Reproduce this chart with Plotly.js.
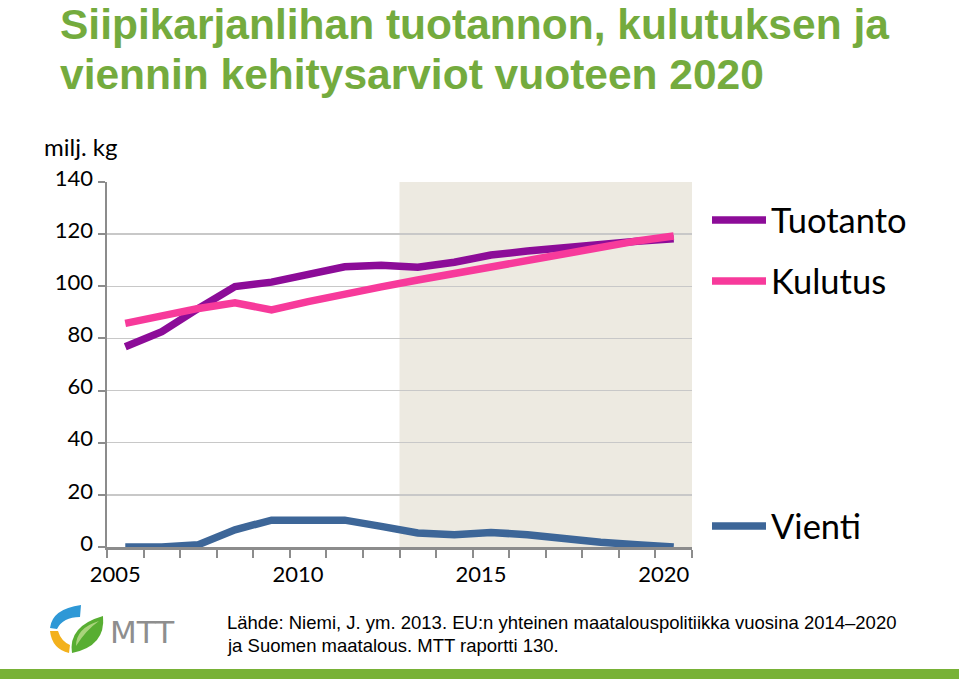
<!DOCTYPE html>
<html>
<head>
<meta charset="utf-8">
<script src="https://cdn.plot.ly/plotly-3.0.1.min.js"></script>
<style>
html,body{margin:0;padding:0;background:#fff;}
#chart{width:959px;height:679px;}
</style>
</head>
<body>
<div id="chart"></div>
<script>
// ---- data ----
const years = [2005, 2006, 2007, 2008, 2009, 2010, 2011, 2012, 2013, 2014, 2015, 2016, 2017, 2018, 2019, 2020];
const tuotanto = [76.8, 82.6, 91.5, 99.9, 101.6, 104.6, 107.5, 108.1, 107.3, 109.2, 112.0, 113.5, 114.9, 116.2, 117.3, 118.2];
const kulutus = [85.8, 89.0, 91.5, 93.7, 90.9, 94.1, 97.3, 99.8, 102.4, 104.9, 107.2, 109.8, 112.3, 115.4, 117.4, 119.3];
const vienti = [0, 0, 0.9, 6.6, 10.3, 10.3, 10.3, 7.9, 5.4, 4.7, 5.6, 4.7, 3.1, 1.8, 0.9, 0];
const tickYears = [2005, 2010, 2015, 2020];
const tickLabels = ['2005', '2010', '2015', '2020'];
const seriesNames = ['Tuotanto', 'Kulutus', 'Vienti'];
const forecastStart = 2013;
const forecastEnd = 2020;

// ---- pixel helpers for the page frame (plot area 107..692 x 182..547) ----
const L = 107, R = 692, T = 182, B = 547;
const px = x => (x - L) / (R - L);
const py = y => (B - y) / (B - T);

const colors = ['#8C0C98', '#F73A9B', '#3D6698'];
const tickFont = {family: 'Lato, "Open Sans", sans-serif', size: 22, color: '#000'};
const legFont = {family: 'Lato, "Open Sans", sans-serif', size: 34.5, color: '#000'};

// category boundaries (tick marks sit between the years)
const boundaries = years.map(y => y - 0.5).concat([years[years.length - 1] + 0.5]);

const series = [tuotanto, kulutus, vienti];
const legendIds = ['legend', 'legend2', 'legend3'];
const xAxisIds = ['x', 'x', 'x2'];
const traces = series.map((vals, i) => ({
  type: 'scatter', mode: 'lines', x: years, y: vals, name: seriesNames[i],
  xaxis: xAxisIds[i], yaxis: 'y',
  line: {color: colors[i], width: 7.5}, cliponaxis: false,
  legend: legendIds[i], hoverinfo: 'x+y+name'
}));

const logoSvg = '<svg xmlns="http://www.w3.org/2000/svg" width="90" height="80" viewBox="30 595 90 80">' +
  '<path d="M50,628 Q52,609 81,605 L80,617 Q63,617 57,629 Z" fill="#2E98D6"/>' +
  '<path d="M50,631 Q52,649 69,653 L70,645 Q61,641 58,631 Z" fill="#F3B11C"/>' +
  '<path d="M72,653 Q68,626 103,616 Q106,646 72,653 Z" fill="#58AE32"/>' +
  '<path d="M76,646 Q76,628 99,621 Q86,630 76,646 Z" fill="#A9D47C"/>' +
  '</svg>';

const legendBase = (y) => ({
  x: px(707), xanchor: 'left', y: py(y), yanchor: 'middle',
  font: legFont, itemwidth: 54, bgcolor: 'rgba(0,0,0,0)', borderwidth: 0
});

const xRange = [years[0] - 0.5, years[years.length - 1] + 0.5];

const layout = {
  width: 959, height: 679,
  margin: {l: L, r: 959 - R, t: T, b: 679 - B, pad: 0},
  paper_bgcolor: '#fff', plot_bgcolor: '#fff',
  showlegend: true,
  legend: legendBase(220),
  legend2: legendBase(281),
  legend3: legendBase(526),
  xaxis: {
    range: xRange, tickmode: 'array', tickvals: boundaries, ticktext: boundaries.map(() => ''),
    ticks: 'outside', ticklen: 8, tickwidth: 2, tickcolor: '#8C8C8C',
    showline: true, linecolor: '#8C8C8C', linewidth: 2.5,
    showgrid: false, zeroline: false, tickfont: tickFont, layer: 'below traces',
    fixedrange: true
  },
  xaxis2: {
    overlaying: 'x', anchor: 'y', side: 'bottom', range: xRange,
    tickmode: 'array', tickvals: tickYears, ticktext: tickLabels,
    ticks: '', ticklabelshift: -10, ticklabelstandoff: 12,
    showline: false, showgrid: false, zeroline: false, tickfont: tickFont, fixedrange: true
  },
  yaxis: {
    range: [0, 140], tickmode: 'linear', tick0: 0, dtick: 20,
    ticks: 'outside', ticklen: 7, tickwidth: 2, tickcolor: '#8C8C8C', ticklabelshift: -4,
    showline: true, linecolor: '#8C8C8C', linewidth: 2.5,
    showgrid: true, gridcolor: '#C8C8C8', gridwidth: 1.5, zeroline: false,
    tickfont: tickFont, layer: 'below traces', fixedrange: true
  },
  shapes: [
    {type: 'rect', xref: 'x', yref: 'paper', x0: forecastStart - 0.5, x1: forecastEnd + 0.5, y0: 0, y1: 1,
     fillcolor: '#EDEAE1', line: {width: 0}, layer: 'below'},
    {type: 'rect', xref: 'paper', yref: 'paper', x0: px(0), x1: px(959), y0: py(679), y1: py(669),
     fillcolor: '#78B236', line: {width: 0}, layer: 'above'}
  ],
  images: [
    {source: 'data:image/svg+xml;charset=utf-8,' + encodeURIComponent(logoSvg),
     xref: 'paper', yref: 'paper', x: px(30), y: py(595), sizex: px(120) - px(30), sizey: py(595) - py(675),
     xanchor: 'left', yanchor: 'top', sizing: 'stretch', layer: 'above'}
  ],
  annotations: [
    {text: 'Siipikarjanlihan tuotannon, kulutuksen ja', xref: 'paper', yref: 'paper', x: px(58), y: py(24),
     xanchor: 'left', yanchor: 'middle', showarrow: false,
     font: {family: '"Liberation Sans", Arial, sans-serif', size: 42.5, color: '#74AB3E', weight: 'bold'}},
    {text: 'viennin kehitysarviot vuoteen 2020', xref: 'paper', yref: 'paper', x: px(58), y: py(74),
     xanchor: 'left', yanchor: 'middle', showarrow: false,
     font: {family: '"Liberation Sans", Arial, sans-serif', size: 42.5, color: '#74AB3E', weight: 'bold'}},
    {text: 'milj. kg', xref: 'paper', yref: 'paper', x: px(80), y: py(146), xanchor: 'center', yanchor: 'middle',
     showarrow: false, font: {family: 'Lato, "Open Sans", sans-serif', size: 24, color: '#000'}},
    {text: 'Lähde: Niemi, J. ym. 2013. EU:n yhteinen maatalouspolitiikka vuosina 2014–2020', xref: 'paper', yref: 'paper',
     x: px(225), y: py(622), xanchor: 'left', yanchor: 'middle', showarrow: false,
     font: {family: '"Liberation Sans", Arial, sans-serif', size: 18.5, color: '#000'}},
    {text: 'ja Suomen maatalous. MTT raportti 130.', xref: 'paper', yref: 'paper',
     x: px(225), y: py(645), xanchor: 'left', yanchor: 'middle', showarrow: false,
     font: {family: '"Liberation Sans", Arial, sans-serif', size: 18.5, color: '#000'}},
    {text: 'MTT', xref: 'paper', yref: 'paper', x: px(108), y: py(632), xanchor: 'left', yanchor: 'middle',
     showarrow: false, font: {family: '"DejaVu Sans", sans-serif', size: 31, color: '#8E8E8E'}}
  ]
};

Plotly.newPlot('chart', traces, layout, {displayModeBar: false, staticPlot: true});
</script>
</body>
</html>
